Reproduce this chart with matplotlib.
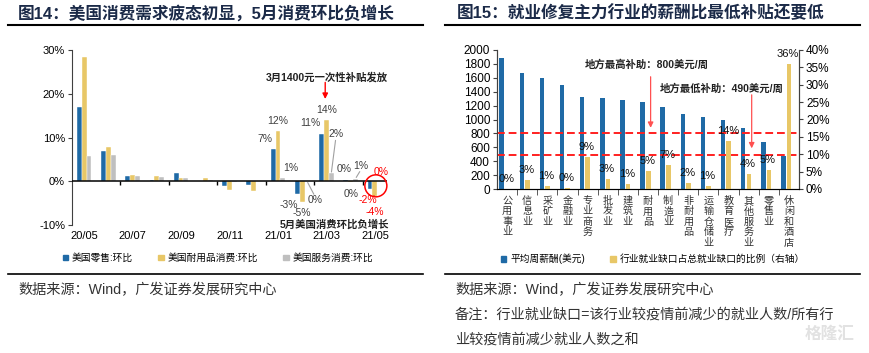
import numpy as np
import matplotlib
matplotlib.use("Agg")
import matplotlib.pyplot as plt
from matplotlib.patches import Patch, Ellipse
from matplotlib.lines import Line2D

plt.rcParams['font.family'] = ['Liberation Sans', 'Noto Sans CJK SC']
plt.rcParams['axes.unicode_minus'] = False

# ---------------- data: left chart ----------------
months = ['20/05', '20/06', '20/07', '20/08', '20/09', '20/10', '20/11',
          '20/12', '21/01', '21/02', '21/03', '21/04', '21/05']
retail = [17.0, 7.0, 1.1, 0.3, 1.9, 0.0, -1.0, -0.8, 7.3, -2.9, 10.9, 0.4, -1.7]
durable = [28.4, 7.8, 1.4, 1.2, 0.8, 0.8, -2.0, -2.3, 11.5, -4.7, 14.1, -0.1, -3.5]
services = [5.7, 6.1, 1.3, 1.0, 0.8, 0.2, -0.1, 0.0, 0.8, 0.0, 1.8, 0.6, 0.1]
left_series_names = ['美国零售:环比', '美国耐用品消费:环比', '美国服务消费:环比']
# data labels: (month index, series index, text)
left_labels = [
    (8, 0, '7%'), (8, 1, '12%'), (8, 2, '1%'),
    (9, 0, '-3%'), (9, 1, '-5%'), (9, 2, '0%'),
    (10, 0, '11%'), (10, 1, '14%'), (10, 2, '2%'),
    (11, 0, '0%'), (11, 1, '0%'), (11, 2, '1%'),
    (12, 0, '-2%'), (12, 1, '-4%'), (12, 2, '0%'),
]

# ---------------- data: right chart ----------------
industries = ['公用事业', '信息业', '采矿业', '金融业', '专业商务', '批发业', '建筑业',
              '耐用品', '制造业', '非耐用品', '运输仓储业', '教育医疗', '其他服务业',
              '零售业', '休闲和酒店']
weekly_wage = [1890, 1670, 1590, 1500, 1330, 1305, 1276, 1252, 1184, 1079, 1032,
               988, 878, 672, 475]
gap_share = [0.1, 2.7, 1.0, 0.3, 9.1, 3.0, 1.3, 5.2, 6.9, 1.6, 1.0, 13.8, 4.4, 5.4, 36.0]
gap_labels = ['0%', '3%', '1%', '0%', '9%', '3%', '1%', '5%', '7%', '2%', '1%',
              '14%', '4%', '5%', '36%']
subsidy_max = 800
subsidy_min = 490
right_series_names = ['平均周薪酬(美元)', '行业就业缺口占总就业缺口的比例（右轴）']

BLUE = '#1F6AA6'
YELLOW = '#E8C767'
GRAY = '#BFBFBF'
TITLE_C = '#1B2A48'

W, H = 869, 353
fig = plt.figure(figsize=(W / 100, H / 100), dpi=100)


def fx(px):
    return px / W


def fy(py):
    return 1 - py / H


# ---------------- titles / rules / sources ----------------
fig.text(fx(18), fy(13), '图14：美国消费需求疲态初显，5月消费环比负增长', fontsize=12,
         fontweight='bold', color=TITLE_C, va='center', ha='left')
fig.text(fx(457), fy(13), '图15：就业修复主力行业的薪酬比最低补贴还要低', fontsize=12,
         fontweight='bold', color=TITLE_C, va='center', ha='left')
for x0, x1 in [(8, 423), (445, 860)]:
    fig.add_artist(Line2D([fx(x0), fx(x1)], [fy(25), fy(25)], color='black', lw=1.5))
    fig.add_artist(Line2D([fx(x0), fx(x1)], [fy(273.5), fy(273.5)], color='black', lw=1.2))
src_fs = 10.2
fig.text(fx(18), fy(290), '数据来源：Wind，广发证券发展研究中心', fontsize=src_fs,
         color='#333333', va='center', ha='left')
fig.text(fx(455), fy(290), '数据来源：Wind，广发证券发展研究中心', fontsize=src_fs,
         color='#333333', va='center', ha='left')
fig.text(fx(455), fy(315), '备注：行业就业缺口=该行业较疫情前减少的就业人数/所有行', fontsize=src_fs,
         color='#333333', va='center', ha='left')
fig.text(fx(455), fy(340), '业较疫情前减少就业人数之和', fontsize=src_fs,
         color='#333333', va='center', ha='left')
fig.text(fx(830), fy(334), '格隆汇', fontsize=12, color='#E2E2E2', va='center',
         ha='center', fontweight='bold')

# ---------------- left chart ----------------
ax1 = fig.add_axes([fx(72), fy(225), fx(315), (225 - 50) / H])
x = np.arange(len(months))
bw = 0.2
series = [retail, durable, services]
colors = [BLUE, YELLOW, GRAY]
offs = [-bw, 0, bw]
for s, c, o in zip(series, colors, offs):
    ax1.bar(x + o, s, bw, color=c, edgecolor='white', linewidth=0.3, zorder=2)
ax1.set_xlim(-0.5, len(months) - 0.5)
ax1.set_ylim(-10, 30)
ax1.set_yticks([-10, 0, 10, 20, 30])
ax1.set_yticklabels([f'{v}%' for v in [-10, 0, 10, 20, 30]])
ax1.set_xticks(x[::2])
ax1.set_xticklabels(months[::2])
ax1.tick_params(axis='x', length=0, pad=4, labelsize=8)
ax1.tick_params(axis='y', length=3, direction='out', pad=2, labelsize=8,
                color='#404040')
for sp in ['top', 'right', 'bottom']:
    ax1.spines[sp].set_visible(False)
ax1.spines['left'].set_color('#404040')
ax1.axhline(0, color='black', lw=1.1, zorder=3)
ax1.vlines(np.arange(1.5, len(months) - 1, 2), -0.9, 0, color='black', lw=1, zorder=3)

# data labels (pixel offsets relative to bar end)
lab_style = {
    (8, 0): (-8, 10, False), (8, 1): (0, 10, False), (8, 2): (8, 10, False),
    (9, 0): (-9, -11, False), (9, 1): (0, -11, False), (9, 2): (8, -19, True),
    (10, 0): (-11, 11, False), (10, 1): (0, 10, False), (10, 2): (5, 39, True),
    (11, 0): (-2, 11, False), (11, 1): (0, -12, False), (11, 2): (5, 13, True),
    (12, 0): (-2, -11, False), (12, 1): (0, -15, False), (12, 2): (1, 9, False),
}
for (mi, si, txt) in left_labels:
    val = series[si][mi]
    bx = x[mi] + offs[si]
    dx, dy, leader = lab_style[(mi, si)]
    col = 'red' if mi == len(months) - 1 else '#404040'
    ax1.annotate(txt, xy=(bx, val), xytext=(dx, dy), textcoords='offset pixels',
                 ha='center', va='center', fontsize=7.5, color=col, zorder=5)
    if leader:
        sign = 1 if dy > 0 else -1
        ax1.annotate('', xy=(bx, val), xytext=(dx * 0.85, dy - sign * 6),
                     textcoords='offset pixels',
                     arrowprops=dict(arrowstyle='-', color='#A0A0A0', lw=0.8,
                                     shrinkA=0, shrinkB=1))

ax1.text(10.0, 23.8, '3月1400元一次性补贴发放', fontsize=7.5, fontweight='bold',
         ha='center', va='center', color='#222222')
ax1.annotate('', xy=(9.95, 18.8), xytext=(9.95, 22.6),
             arrowprops=dict(arrowstyle='-|>', color='red', lw=1.0, mutation_scale=8,
                             shrinkA=0, shrinkB=0))
ax1.text(12.6, -9.8, '5月美国消费环比负增长', fontsize=7.5, fontweight='bold',
         ha='right', va='center', color='#222222', clip_on=False)
px_x = 24.23
px_y = 175 / 40
ax1.add_patch(Ellipse((12.04, -1.05), 22 / px_x, 22 / px_y, fill=False,
                      edgecolor='red', lw=1.1, zorder=6, clip_on=False))

fig.legend([Patch(color=c) for c in colors], left_series_names,
           loc='center', bbox_to_anchor=(fx(218), fy(258)), ncol=3, frameon=False,
           fontsize=7, handlelength=0.55, handleheight=0.55, handletextpad=0.4,
           columnspacing=2.6, borderaxespad=0)

# ---------------- right chart ----------------
ax2 = fig.add_axes([fx(497), fy(189), fx(302), (189 - 50) / H])
xi = np.arange(len(industries))
ax2.bar(xi - 0.27, weekly_wage, 0.22, color=BLUE, zorder=2)
ax2.set_xlim(-0.5, len(industries) - 0.5)
ax2.set_ylim(0, 2000)
ax2.set_yticks(np.arange(0, 2001, 200))
ax2.axhline(subsidy_max, color='#FF2020', ls=(0, (4, 2)), lw=1.4, zorder=4)
ax2.axhline(subsidy_min, color='#FF2020', ls=(0, (4, 2)), lw=1.4, zorder=4)
ax2.set_xticks(xi)
ax2.set_xticklabels(['\n'.join(list(n)) for n in industries], fontsize=7.3,
                    linespacing=1.05, color='#333333', va='top')
ax2.set_xticks(np.arange(0.5, len(industries) - 1, 1), minor=True)
ax2.tick_params(axis='x', which='major', length=0, pad=5)
ax2.tick_params(axis='x', which='minor', length=4, direction='out', color='#404040')
ax2.tick_params(axis='y', length=3, direction='out', pad=2, labelsize=8.5,
                color='#404040')
ax2.spines['top'].set_visible(False)
for sp in ['left', 'bottom', 'right']:
    ax2.spines[sp].set_color('#404040')

ax2b = ax2.twinx()
ax2b.bar(xi + 0.01, gap_share, 0.23, color=YELLOW, zorder=2)
ax2b.set_ylim(0, 40)
ax2b.set_yticks(np.arange(0, 41, 5))
ax2b.set_yticklabels([f'{v}%' for v in range(0, 41, 5)])
ax2b.tick_params(axis='y', length=3, direction='out', pad=2, labelsize=8.5,
                 color='#404040')
ax2b.spines['top'].set_visible(False)
ax2b.spines['right'].set_color('#404040')
ax2b.spines['left'].set_color('#404040')
for i, (v, t) in enumerate(zip(gap_share, gap_labels)):
    ax2b.annotate(t, xy=(i + 0.01, v), xytext=(-1, 10), textcoords='offset pixels',
                  ha='center', va='center', fontsize=8, color='#111111', zorder=6)

ax2.text(6.96, 1784, f'地方最高补助：{subsidy_max}美元/周', fontsize=7.5,
         fontweight='bold', ha='center', va='center', color='#222222', zorder=6)
ax2.annotate('', xy=(7.13, 880), xytext=(7.13, 1615),
             arrowprops=dict(arrowstyle='-|>', color='#FF5050', lw=0.9,
                             mutation_scale=8, shrinkA=0, shrinkB=0))
ax2.text(10.66, 1439, f'地方最低补助：{subsidy_min}美元/周', fontsize=7.5,
         fontweight='bold', ha='center', va='center', color='#222222', zorder=6)
ax2.annotate('', xy=(12.15, 585), xytext=(12.15, 1355),
             arrowprops=dict(arrowstyle='-|>', color='#FF5050', lw=0.9,
                             mutation_scale=8, shrinkA=0, shrinkB=0))

fig.legend([Patch(color=BLUE), Patch(color=YELLOW)], right_series_names,
           loc='center', bbox_to_anchor=(fx(653), fy(259)), ncol=2, frameon=False,
           fontsize=7, handlelength=0.55, handleheight=0.55, handletextpad=0.4,
           columnspacing=2.6, borderaxespad=0)

fig.savefig('out.png', dpi=100)
